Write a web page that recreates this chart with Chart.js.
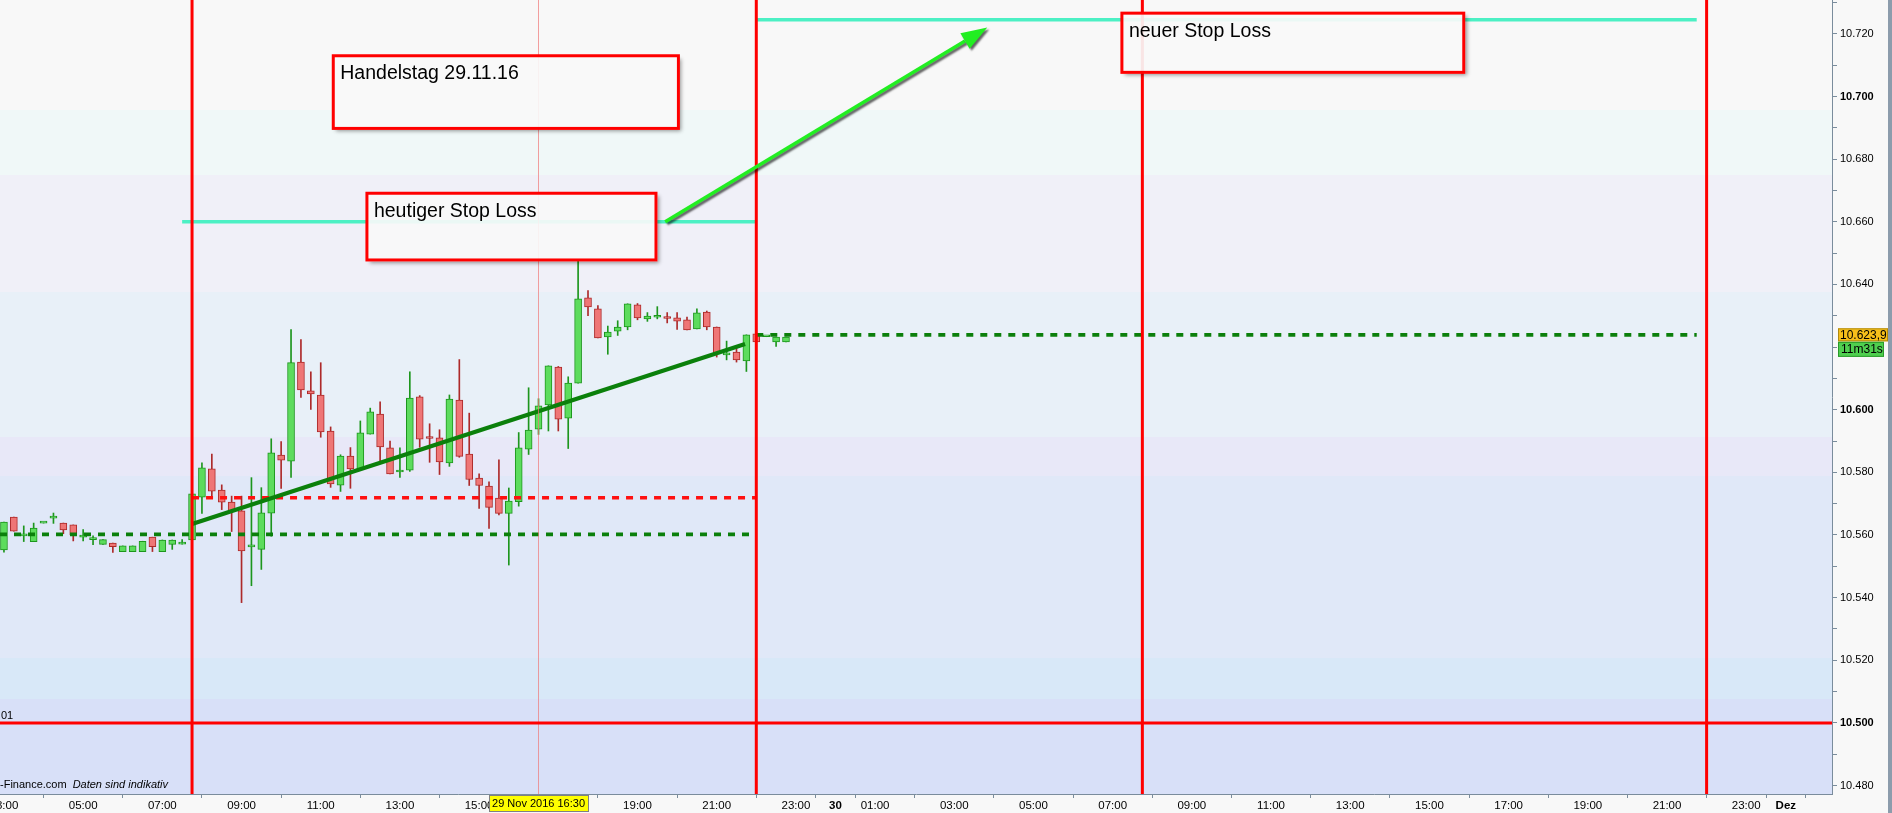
<!DOCTYPE html>
<html lang="de">
<head>
<meta charset="UTF-8">
<title>Handelstag 29.11.16</title>
<script src="https://cdn.jsdelivr.net/npm/chart.js@4"></script>
<style>
  html, body { margin: 0; padding: 0; background: #f8f8f8; overflow: hidden; }
</style>
</head>
<body>
<canvas id="chart" width="1892" height="813"></canvas>
<script>
// 15-Minuten-Kerzen vom 29.11.2016
const candleTimes = [
  '03:00','03:15','03:30','03:45','04:00','04:15','04:30','04:45','05:00','05:15',
  '05:30','05:45','06:00','06:15','06:30','06:45','07:00','07:15','07:30','07:45',
  '08:00','08:15','08:30','08:45','09:00','09:15','09:30','09:45','10:00','10:15',
  '10:30','10:45','11:00','11:15','11:30','11:45','12:00','12:15','12:30','12:45',
  '13:00','13:15','13:30','13:45','14:00','14:15','14:30','14:45','15:00','15:15',
  '15:30','15:45','16:00','16:15','16:30','16:45','17:00','17:15','17:30','17:45',
  '18:00','18:15','18:30','18:45','19:00','19:15','19:30','19:45','20:00','20:15',
  '20:30','20:45','21:00','21:15','21:30','21:45','22:00','22:15','22:30','22:45'
];
const opens = [
  10.5552,10.5657,10.5597,10.5579,10.5638,10.5654,10.5638,10.5632,10.5593,10.5585,
  10.5570,10.5574,10.5547,10.5547,10.5547,10.5593,10.5547,10.5570,10.5571,10.5584,
  10.5721,10.5811,10.5743,10.5705,10.5677,10.5562,10.5554,10.5670,10.5855,10.5836,
  10.6152,10.6060,10.6047,10.5932,10.5759,10.5852,10.5811,10.5922,10.5986,10.5878,
  10.5801,10.5807,10.6041,10.5909,10.5910,10.5830,10.6031,10.5858,10.5782,10.5756,
  10.5718,10.5669,10.5706,10.5874,10.5938,10.6015,10.6136,10.5973,10.6085,10.6357,
  10.6322,10.6232,10.6251,10.6264,10.6335,10.6290,10.6295,10.6292,10.6293,10.6287,
  10.6258,10.6312,10.6264,10.6175,10.6184,10.6156,10.6242,10.6233,10.6216,10.6216
];
const highs = [
  10.5641,10.5657,10.5629,10.5638,10.5639,10.5670,10.5638,10.5632,10.5617,10.5597,
  10.5585,10.5574,10.5565,10.5565,10.5580,10.5593,10.5584,10.5584,10.5585,10.5731,
  10.5830,10.5858,10.5760,10.5724,10.5724,10.5783,10.5751,10.5907,10.5898,10.6256,
  10.6224,10.6121,10.6150,10.5945,10.5856,10.5879,10.5964,10.6005,10.6025,10.5900,
  10.5878,10.6121,10.6045,10.5955,10.5936,10.6047,10.6160,10.5989,10.5795,10.5770,
  10.5840,10.5750,10.5927,10.6070,10.6035,10.6140,10.6138,10.6105,10.6479,10.6380,
  10.6332,10.6267,10.6284,10.6338,10.6339,10.6310,10.6329,10.6310,10.6310,10.6296,
  10.6322,10.6315,10.6264,10.6219,10.6204,10.6239,10.6242,10.6234,10.6232,10.6232
];
const lows = [
  10.5545,10.5612,10.5579,10.5579,10.5638,10.5637,10.5604,10.5581,10.5581,10.5569,
  10.5570,10.5544,10.5547,10.5547,10.5547,10.5547,10.5547,10.5554,10.5571,10.5584,
  10.5669,10.5720,10.5681,10.5611,10.5384,10.5438,10.5490,10.5596,10.5749,10.5784,
  10.6039,10.6001,10.5912,10.5752,10.5739,10.5749,10.5811,10.5922,10.5833,10.5795,
  10.5784,10.5803,10.5880,10.5832,10.5793,10.5819,10.5848,10.5758,10.5685,10.5621,
  10.5664,10.5504,10.5692,10.5857,10.5921,10.5932,10.5932,10.5876,10.6085,10.6300,
  10.6229,10.6177,10.6237,10.6255,10.6287,10.6282,10.6290,10.6277,10.6256,10.6255,
  10.6258,10.6255,10.6168,10.6159,10.6152,10.6122,10.6216,10.6233,10.6202,10.6216
];
const closes = [
  10.5641,10.5612,10.5598,10.5622,10.5639,10.5655,10.5616,10.5600,10.5600,10.5586,
  10.5585,10.5563,10.5565,10.5565,10.5580,10.5563,10.5584,10.5584,10.5572,10.5731,
  10.5814,10.5740,10.5705,10.5677,10.5549,10.5563,10.5671,10.5862,10.5839,10.6150,
  10.6063,10.6050,10.5929,10.5763,10.5852,10.5811,10.5926,10.5993,10.5881,10.5795,
  10.5802,10.6037,10.5906,10.5908,10.5833,10.6034,10.5851,10.5777,10.5758,10.5688,
  10.5669,10.5708,10.5878,10.5935,10.6012,10.6140,10.5970,10.6085,10.6354,10.6328,
  10.6229,10.6248,10.6264,10.6338,10.6293,10.6299,10.6296,10.6291,10.6283,10.6255,
  10.6309,10.6264,10.6181,10.6181,10.6159,10.6239,10.6216,10.6234,10.6232,10.6232
];

// Achsen
const priceTicks = [10.48,10.49,10.50,10.51,10.52,10.53,10.54,10.55,10.56,10.57,10.58,10.59,
                    10.60,10.61,10.62,10.63,10.64,10.65,10.66,10.67,10.68,10.69,10.70,10.71,10.72,10.73];
const priceTickLabels = ['10.480','','10.500','','10.520','','10.540','','10.560','','10.580','',
                         '10.600','','10.620','','10.640','','10.660','','10.680','','10.700','','10.720',''];
const timeTicks = [['29.11','03:00'],['29.11','05:00'],['29.11','07:00'],['29.11','09:00'],['29.11','11:00'],
                   ['29.11','13:00'],['29.11','15:00'],['29.11','17:00'],['29.11','19:00'],['29.11','21:00'],
                   ['29.11','23:00'],['30.11','00:00'],['30.11','01:00'],['30.11','03:00'],['30.11','05:00'],
                   ['30.11','07:00'],['30.11','09:00'],['30.11','11:00'],['30.11','13:00'],['30.11','15:00'],
                   ['30.11','17:00'],['30.11','19:00'],['30.11','21:00'],['30.11','23:00'],['01.12','00:00']];
const timeTickLabels = ['03:00','05:00','07:00','09:00','11:00','13:00','15:00','17:00','19:00','21:00',
                        '23:00','30','01:00','03:00','05:00','07:00','09:00','11:00','13:00','15:00',
                        '17:00','19:00','21:00','23:00','Dez'];
const viewStart = ['29.11','02:54'];
const viewEnd = ['01.12','01:10'];
const priceMin = 10.4773, priceMax = 10.7308;

// Linien
const supportLevel = 10.5602;
const resistanceLevel = 10.5719;
const stopToday = 10.660;
const stopNew = 10.7245;
const lastPrice = 10.6239;
const lastPriceText = '10.623,9';
const timerText = '11m31s';
const baseLevel = 10.500;
const trendFrom = [['29.11','07:45'], 10.5635];
const trendTo = [['29.11','21:43'], 10.6210];
const sessionLines = [['29.11','07:45'],['29.11','22:00'],['30.11','07:45'],['30.11','22:00']];
const cursorTime = ['29.11','16:30'];
const cursorText = '29 Nov 2016 16:30';
const arrowFrom = [['29.11','19:42'], 10.660];
const arrowTo = [['30.11','03:50'], 10.722];

const notes = [
  { text: 'Handelstag 29.11.16', from: ['29.11','11:19'], to: ['29.11','20:02'], top: 10.7130, bottom: 10.6898 },
  { text: 'heutiger Stop Loss', from: ['29.11','12:10'], to: ['29.11','19:28'], top: 10.6691, bottom: 10.6478 },
  { text: 'neuer Stop Loss', from: ['30.11','07:14'], to: ['30.11','15:52'], top: 10.7266, bottom: 10.7077 }
];

// Stunden seit 29.11. 00:00
function hrs(t) {
  const day = { '29.11': 0, '30.11': 24, '01.12': 48 }[t[0]];
  const [h, m] = t[1].split(':').map(Number);
  return day + h + m / 60;
}

const FONT = "'Liberation Sans', Arial, sans-serif";
const xMin = hrs(viewStart), xMax = hrs(viewEnd);

const up = closes.map((c, i) => c >= opens[i]);
const xs = candleTimes.map(t => hrs(['29.11', t]));

function seg(points, style) {
  return Object.assign({
    type: 'line',
    data: points.map(p => ({ x: p[0], y: p[1] })),
    pointRadius: 0, fill: false, tension: 0, order: 0,
    borderCapStyle: 'butt'
  }, style);
}

const dashedGreen = { borderColor: '#0b7f0b', borderWidth: 3.6, borderDash: [7, 7] };
const stopStyle = { borderColor: '#4cf0c4', borderWidth: 3.6 };

const datasets = [
  ...sessionLines.map(t => seg([[hrs(t), priceMin], [hrs(t), priceMax]], { borderColor: '#ff0000', borderWidth: 3 })),
  seg([[xMin, baseLevel], [xMax, baseLevel]], { borderColor: '#ff0000', borderWidth: 3 }),
  seg([[hrs(cursorTime), priceMin], [hrs(cursorTime), priceMax]], { borderColor: 'rgba(240,120,120,0.7)', borderWidth: 1 }),
  seg([[hrs(trendFrom[0]), trendFrom[1]], [hrs(trendTo[0]), trendTo[1]]], { borderColor: '#0b800b', borderWidth: 4.2 }),
  seg([[hrs(['29.11','07:45']), resistanceLevel], [hrs(['29.11','22:00']), resistanceLevel]],
      { borderColor: '#ff1010', borderWidth: 3.6, borderDash: [7, 7] }),
  seg([[xMin, supportLevel], [hrs(['29.11','22:00']), supportLevel]], dashedGreen),
  seg([[hrs(['29.11','22:00']), lastPrice], [hrs(['30.11','21:45']), lastPrice]], dashedGreen),
  seg([[hrs(['29.11','07:30']), stopToday], [hrs(['29.11','22:00']), stopToday]], stopStyle),
  seg([[hrs(['29.11','22:00']), stopNew], [hrs(['30.11','21:45']), stopNew]], stopStyle),
  {
    type: 'bar', order: 1, grouped: false,
    data: xs.map((x, i) => ({ x: x, y: [opens[i], closes[i]] })),
    backgroundColor: up.map(u => u ? '#5ddc5d' : '#ef7676'),
    borderColor: up.map(u => u ? '#1d961d' : '#ad2a2a'),
    borderWidth: 1, borderSkipped: false, barThickness: 7, minBarLength: 2
  },
  {
    type: 'bar', order: 2, grouped: false,
    data: xs.map((x, i) => ({ x: x, y: [lows[i], highs[i]] })),
    backgroundColor: up.map(u => u ? '#1d961d' : '#ad2a2a'),
    borderWidth: 0, barThickness: 1
  }
];

const bandEdges = [0, 0.1385, 0.22, 0.3676, 0.5504, 0.5995, 0.8287, 0.8804, 1];
const bandColors = ['#f8f8f8', '#f0f8f8', '#f0f0f8', '#e8f0f8', '#e8e8f8', '#e0e8f8', '#d8e8f8', '#d8e0f8'];

const decor = {
  id: 'decor',
  beforeDraw(chart) {
    const { ctx, chartArea: a } = chart;
    ctx.save();
    ctx.fillStyle = '#f8f8f8';
    ctx.fillRect(0, 0, chart.width, chart.height);
    const h = a.bottom - a.top;
    for (let i = 0; i < bandColors.length; i++) {
      const y0 = Math.round(a.top + bandEdges[i] * h), y1 = Math.round(a.top + bandEdges[i + 1] * h);
      ctx.fillStyle = bandColors[i];
      ctx.fillRect(a.left, y0, a.right - a.left, y1 - y0);
    }
    ctx.restore();
  },
  afterDatasetsDraw(chart) {
    const { ctx, chartArea: a } = chart;
    const x = chart.scales.x, y = chart.scales.y;
    ctx.save();

    // Pfeil
    const x1 = x.getPixelForValue(hrs(arrowFrom[0])), y1 = y.getPixelForValue(arrowFrom[1]);
    const x2 = x.getPixelForValue(hrs(arrowTo[0])), y2 = y.getPixelForValue(arrowTo[1]);
    const ang = Math.atan2(y2 - y1, x2 - x1), c = Math.cos(ang), s = Math.sin(ang);
    const bx = x2 - 26 * c, by = y2 - 26 * s;
    ctx.shadowColor = 'rgba(0,0,0,0.6)';
    ctx.shadowOffsetX = 2; ctx.shadowOffsetY = 2; ctx.shadowBlur = 2;
    ctx.strokeStyle = '#22ee22'; ctx.fillStyle = '#22ee22'; ctx.lineWidth = 3.5;
    ctx.beginPath(); ctx.moveTo(x1, y1); ctx.lineTo(bx, by); ctx.stroke();
    ctx.beginPath();
    ctx.moveTo(x2, y2);
    ctx.lineTo(bx + 9 * s, by - 9 * c);
    ctx.lineTo(bx - 9 * s, by + 9 * c);
    ctx.closePath(); ctx.fill();

    // Notizen: Schatten nur ausserhalb des Kastens, Kasten leicht durchscheinend
    notes.forEach(n => {
      const l = x.getPixelForValue(hrs(n.from)), r = x.getPixelForValue(hrs(n.to));
      const t = y.getPixelForValue(n.top), b = y.getPixelForValue(n.bottom);
      ctx.save();
      ctx.beginPath();
      ctx.rect(0, 0, chart.width, chart.height);
      ctx.rect(l - 1.5, t - 1.5, r - l + 3, b - t + 3);
      ctx.clip('evenodd');
      ctx.shadowColor = 'rgba(0,0,0,0.4)';
      ctx.shadowOffsetX = 3; ctx.shadowOffsetY = 3; ctx.shadowBlur = 4;
      ctx.fillStyle = '#f8f8f8';
      ctx.fillRect(l, t, r - l, b - t);
      ctx.restore();
      ctx.save();
      ctx.shadowColor = 'transparent';
      ctx.fillStyle = 'rgba(249,249,249,0.92)';
      ctx.fillRect(l, t, r - l, b - t);
      ctx.strokeStyle = '#ff0000'; ctx.lineWidth = 3;
      ctx.strokeRect(l, t, r - l, b - t);
      ctx.fillStyle = '#000';
      ctx.font = '19.5px ' + FONT;
      ctx.textBaseline = 'middle';
      ctx.textAlign = 'left';
      ctx.fillText(n.text, l + 7, t + 18);
      ctx.restore();
    });

    // Quelle und Levelbeschriftung
    ctx.shadowColor = 'transparent';
    ctx.fillStyle = '#000';
    ctx.textBaseline = 'middle';
    ctx.font = '11px ' + FONT;
    ctx.fillText('-Finance.com', a.left, a.bottom - 9);
    const w = ctx.measureText('-Finance.com').width;
    ctx.font = 'italic 11px ' + FONT;
    ctx.fillText('Daten sind indikativ', a.left + w + 6, a.bottom - 9);
    ctx.font = '11px ' + FONT;
    ctx.fillText('01', a.left + 1, y.getPixelForValue(baseLevel) - 7);
    ctx.restore();
  },
  afterDraw(chart) {
    const { ctx, chartArea: a } = chart;
    const x = chart.scales.x, y = chart.scales.y;
    ctx.save();
    ctx.fillStyle = '#8c9cac';
    ctx.fillRect(chart.width - 4, 0, 4, chart.height);

    // Zeitmarke
    ctx.font = '11px ' + FONT;
    ctx.textBaseline = 'middle';
    ctx.textAlign = 'center';
    const cx = x.getPixelForValue(hrs(cursorTime));
    const cw = ctx.measureText(cursorText).width + 6;
    ctx.fillStyle = '#ffff00';
    ctx.fillRect(cx - cw / 2, a.bottom + 1, cw, chart.height - a.bottom - 2);
    ctx.strokeStyle = '#808080'; ctx.lineWidth = 1;
    ctx.strokeRect(Math.round(cx - cw / 2) + 0.5, a.bottom + 1.5, Math.round(cw), chart.height - a.bottom - 3);
    ctx.fillStyle = '#000';
    ctx.fillText(cursorText, cx, a.bottom + 10);

    // Kurs und Restzeit
    const py = y.getPixelForValue(lastPrice);
    ctx.textAlign = 'left';
    ctx.font = '12px ' + FONT;
    ctx.fillStyle = '#f7bf1a';
    ctx.fillRect(y.left + 6, py - 6.5, chart.width - y.left - 10, 13);
    ctx.strokeStyle = '#b08a10';
    ctx.strokeRect(y.left + 6.5, py - 6, chart.width - y.left - 11, 12);
    ctx.fillStyle = '#000';
    ctx.fillText(lastPriceText, y.left + 8, py + 0.5);
    ctx.fillStyle = '#4fcf4f';
    ctx.fillRect(y.left + 6, py + 7, 46, 15);
    ctx.strokeStyle = '#2a9a2a';
    ctx.strokeRect(y.left + 6.5, py + 7.5, 45, 14);
    ctx.fillStyle = '#000';
    ctx.fillText(timerText, y.left + 9, py + 15);
    ctx.restore();
  }
};

new Chart(document.getElementById('chart'), {
  type: 'line',
  data: { datasets: datasets },
  options: {
    responsive: false,
    animation: false,
    events: [],
    layout: { padding: 0 },
    plugins: { legend: { display: false }, tooltip: { enabled: false } },
    scales: {
      x: {
        type: 'linear', min: xMin, max: xMax, offset: false,
        afterBuildTicks: s => { s.ticks = timeTicks.map(t => ({ value: hrs(t) })); },
        afterFit: s => { s.height = 19; s.paddingLeft = 0; s.paddingRight = 0; },
        grid: { drawOnChartArea: false, drawTicks: true, tickLength: 4, tickColor: '#7a8c9c' },
        border: { display: true, color: '#7a8c9c', width: 1 },
        ticks: {
          autoSkip: false, maxRotation: 0, minRotation: 0, padding: 1, color: '#000',
          callback: (v, i) => timeTickLabels[i],
          font: c => ({ family: FONT, size: 11.5, weight: timeTickLabels[c.index] && timeTickLabels[c.index].indexOf(':') < 0 ? 'bold' : 'normal' })
        }
      },
      y: {
        type: 'linear', position: 'right', min: priceMin, max: priceMax,
        afterBuildTicks: s => { s.ticks = priceTicks.map(v => ({ value: v })); },
        afterFit: s => { s.width = 60; s.paddingTop = 0; s.paddingBottom = 0; },
        grid: { drawOnChartArea: false, drawTicks: true, tickLength: 5, tickColor: '#7a8c9c' },
        border: { display: true, color: '#7a8c9c', width: 1 },
        ticks: {
          autoSkip: false, padding: 3, color: '#000',
          callback: (v, i) => priceTickLabels[i],
          font: c => ({ family: FONT, size: 11,
            weight: c.tick && Math.abs(c.tick.value * 10 - Math.round(c.tick.value * 10)) < 1e-6 ? 'bold' : 'normal' })
        }
      }
    }
  },
  plugins: [decor]
});
</script>
</body>
</html>
